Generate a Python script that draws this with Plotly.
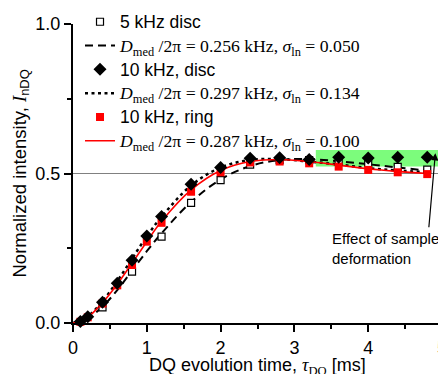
import plotly.graph_objects as go

# measured data
t10 = [0.1, 0.2, 0.4, 0.6, 0.8, 1.0, 1.2, 1.6, 2.0, 2.4, 2.8, 3.2, 3.6, 4.0, 4.4, 4.8]
disc10 = [0.005, 0.021, 0.069, 0.133, 0.210, 0.291, 0.356, 0.464, 0.520, 0.551, 0.553, 0.547, 0.554, 0.552, 0.554, 0.554]
ring10 = [0.004, 0.019, 0.065, 0.126, 0.194, 0.272, 0.335, 0.439, 0.504, 0.537, 0.540, 0.534, 0.523, 0.512, 0.504, 0.498]

t5 = [0.4, 0.8, 1.2, 1.6, 2.0, 2.4, 2.8, 3.2, 3.6, 4.0, 4.4, 4.8]
disc5 = [0.052, 0.172, 0.289, 0.402, 0.478, 0.530, 0.545, 0.545, 0.540, 0.535, 0.522, 0.513]

# fit curves
tfit = [0.0, 0.2, 0.4, 0.6, 0.8, 1.0, 1.2, 1.6, 2.0, 2.4, 2.8, 3.2, 3.6, 4.0, 4.4, 4.8]
fit5 = [0.0, 0.015, 0.055, 0.110, 0.175, 0.240, 0.300, 0.405, 0.480, 0.525, 0.545, 0.548, 0.541, 0.531, 0.520, 0.510]
fit10d = [0.0, 0.022, 0.073, 0.140, 0.215, 0.290, 0.355, 0.460, 0.520, 0.545, 0.548, 0.540, 0.530, 0.518, 0.510, 0.504]
fit10r = [0.0, 0.020, 0.068, 0.130, 0.200, 0.272, 0.340, 0.445, 0.510, 0.540, 0.547, 0.540, 0.528, 0.516, 0.507, 0.500]

names = ["5 kHz disc", "10 kHz, disc", "10 kHz, ring"]
fit_labels = [("0.256", "0.050"), ("0.297", "0.134"), ("0.287", "0.100")]
x_ticks = [0, 1, 2, 3, 4, 5]
y_ticks = [0.0, 0.5, 1.0]
y_ticktext = ["0.0", "0.5", "1.0"]
x_title = 'DQ evolution time, <span style="font-family:Liberation Serif"><i>τ</i><sub>DQ</sub></span> [ms]'
y_title = 'Normalized intensity, <span style="font-family:Liberation Serif"><i>I</i></span><sub>nDQ</sub>'

SANS = "Liberation Sans, Arial, Helvetica, sans-serif"


def fit_text(d, s):
    return ('<span style="font-family:Liberation Serif;font-size:17.7px">'
            '<i>D</i><sub>med</sub> /2π = ' + d + ' kHz, '
            '<i>σ</i><sub>ln</sub> = ' + s + '</span>')


def sans_text(s):
    return '<span style="font-size:17.5px">' + s + '</span>'


fig = go.Figure()

# fit lines
fig.add_trace(go.Scatter(x=tfit, y=fit5, mode="lines", line=dict(color="black", width=2, dash="8px,5px", shape="spline"),
                         name=fit_text(*fit_labels[0]), legendrank=2))
fig.add_trace(go.Scatter(x=tfit, y=fit10d, mode="lines", line=dict(color="black", width=2.5, dash="3px,3.5px", shape="spline"),
                         name=fit_text(*fit_labels[1]), legendrank=4))
fig.add_trace(go.Scatter(x=tfit, y=fit10r, mode="lines", line=dict(color="red", width=1.6, shape="spline"),
                         name=fit_text(*fit_labels[2]), legendrank=6))

# markers
fig.add_trace(go.Scatter(x=t5, y=disc5, mode="markers", name=sans_text(names[0]), legendrank=1,
                         marker=dict(symbol="square", size=7, color="white", line=dict(color="black", width=1.2)),
                         cliponaxis=False))
fig.add_trace(go.Scatter(x=t10, y=ring10, mode="markers", name=sans_text(names[2]), legendrank=5,
                         marker=dict(symbol="square", size=8, color="red", line=dict(width=0)),
                         cliponaxis=False))
fig.add_trace(go.Scatter(x=t10, y=disc10, mode="markers", name=sans_text(names[1]), legendrank=3,
                         marker=dict(symbol="diamond", size=10, color="black", line=dict(width=0)),
                         cliponaxis=False))

# green region, reference line
fig.add_shape(type="rect", xref="paper", yref="paper", x0=0.658, x1=1.02, y0=0.523, y1=0.579,
              fillcolor="rgb(124,252,124)", line=dict(width=0), layer="below")
fig.add_shape(type="line", xref="x", yref="y", x0=0, x1=5, y0=0.5, y1=0.5,
              line=dict(color="gray", width=1), layer="below")

# annotation
fig.add_annotation(x=4.91, y=0.568, ax=4.82, ay=0.315, axref="x", ayref="y", xref="x", yref="y",
                   text="", showarrow=True, arrowhead=2, arrowsize=1.2, arrowwidth=1.2, arrowcolor="black")
fig.add_annotation(x=3.48, y=0.249, xref="x", yref="y", xanchor="left", yanchor="middle", align="left",
                   text="Effect of sample<br>deformation", showarrow=False,
                   font=dict(family=SANS, size=15, color="black"))

# axis titles as annotations (placed like the reference, partly past the edge)
fig.add_annotation(x=0.5, y=-0.146, xref="paper", yref="paper", xanchor="center", yanchor="middle",
                   text=x_title, showarrow=False, font=dict(family=SANS, size=18, color="black"))
fig.add_annotation(x=-0.1436, y=0.5, xref="paper", yref="paper", xanchor="center", yanchor="middle",
                   text=y_title, textangle=-90, showarrow=False, font=dict(family=SANS, size=18.5, color="black"))

axis_common = dict(showline=True, linewidth=2, linecolor="black", ticks="outside", ticklen=7, tickwidth=2,
                   tickcolor="black", showgrid=False, zeroline=False, mirror=False, automargin=False,
                   ticklabeloverflow="allow",
                   tickfont=dict(family=SANS, size=18, color="black"))

fig.update_xaxes(range=[0, 5], tickvals=x_ticks, ticktext=[str(v) for v in x_ticks],
                 minor=dict(ticks="outside", ticklen=4, tickwidth=2, tickcolor="black", dtick=0.5, tick0=0),
                 **axis_common)
fig.update_yaxes(range=[0, 1], tickvals=y_ticks, ticktext=y_ticktext,
                 minor=dict(ticks="outside", ticklen=4, tickwidth=2, tickcolor="black", dtick=0.25, tick0=0),
                 **axis_common)

fig.update_layout(
    width=438, height=366,
    margin=dict(l=65, r=4, t=16, b=51, autoexpand=False),
    paper_bgcolor="white", plot_bgcolor="white",
    showlegend=True,
    legend=dict(x=0.019, y=1.064, xanchor="left", yanchor="top", bgcolor="rgba(0,0,0,0)",
                font=dict(family=SANS, size=16, color="black"), tracegroupgap=0, itemwidth=30),
)

fig.write_html("out.html")
